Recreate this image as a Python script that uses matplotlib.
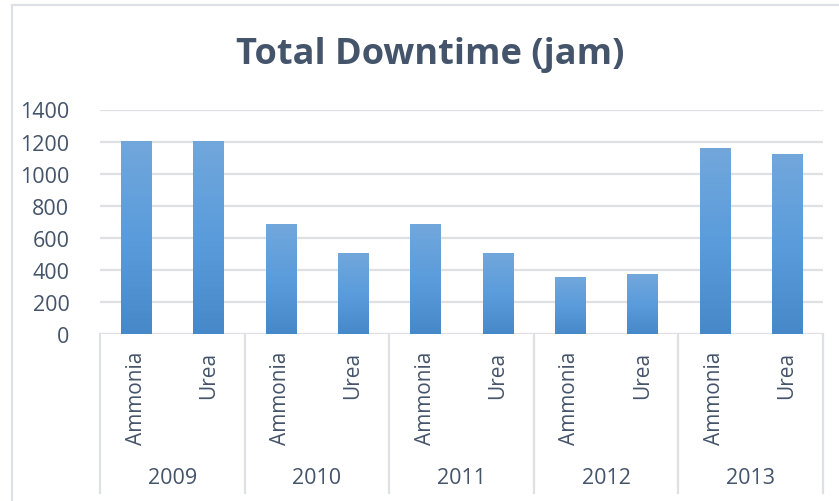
import numpy as np
import matplotlib.pyplot as plt
from matplotlib.colors import LinearSegmentedColormap
from matplotlib.lines import Line2D
from matplotlib.transforms import blended_transform_factory

# === DATA ===
years = ["2009", "2010", "2011", "2012", "2013"]
products = ["Ammonia", "Urea"]
downtime = [1200, 1200, 685, 505, 685, 505, 355, 368, 1159, 1121]

TEXT = "#44546A"
GRID = "#DDE1E6"
FONT = "Open Sans"

plt.rcParams["font.family"] = [FONT, "DejaVu Sans"]

fig = plt.figure(figsize=(8.39, 5.02), dpi=100)
ax = fig.add_axes([100 / 839, 1 - 335 / 502, 723 / 839, 224.5 / 502])

# gradient bars, lighter at the top like Excel
cmap = LinearSegmentedColormap.from_list("bar", ["#4688C8", "#5A9CDC", "#72A7DB"])
grad = np.linspace(0, 1, 256).reshape(-1, 1)
width = 0.415
for i, v in enumerate(downtime):
    ax.imshow(grad, extent=[i - width / 2, i + width / 2, 0, v], origin="lower",
              aspect="auto", cmap=cmap, zorder=3, interpolation="bilinear")

ax.set_xlim(-0.5, len(downtime) - 0.5)
ax.set_ylim(0, 1400)
ax.set_yticks(range(0, 1401, 200))
ax.yaxis.grid(True, color=GRID, linewidth=1.6)
ax.set_axisbelow(True)
for s in ax.spines.values():
    s.set_visible(False)
ax.tick_params(axis="y", length=0, pad=22, labelsize=15.5, labelcolor=TEXT)
ax.set_xticks([])

# multi-level category axis
trans = blended_transform_factory(ax.transData, ax.transAxes)
for i in range(len(downtime)):
    ax.text(i, -0.076, products[i % 2], transform=trans, rotation=90,
            ha="center", va="top", fontsize=15, color=TEXT)
for g, yr in enumerate(years):
    ax.text(2 * g + 0.5, -0.641, yr, transform=trans, ha="center", va="center",
            fontsize=15.5, color=TEXT)
for g in range(len(years) + 1):
    ax.plot([2 * g - 0.5, 2 * g - 0.5], [0, -0.708], transform=trans,
            color=GRID, linewidth=1.6, clip_on=False)

# title
fig.text(430.5 / 839, 1 - 55 / 502, "Total Downtime (jam)", ha="center", va="center",
         fontsize=26, fontweight="bold", color=TEXT)

# chart area border
fig.add_artist(Line2D([12 / 839, 12 / 839], [0, 1 - 6 / 502], color=GRID, linewidth=1.6))
fig.add_artist(Line2D([12 / 839, 1], [1 - 6 / 502, 1 - 6 / 502], color=GRID, linewidth=1.6))

plt.savefig("out.png", dpi=100)
